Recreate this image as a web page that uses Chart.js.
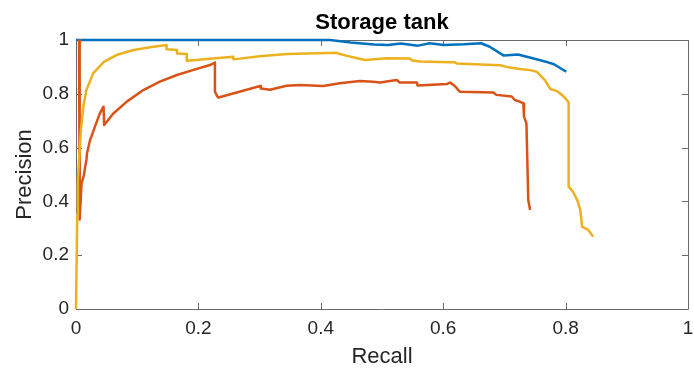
<!DOCTYPE html>
<html>
<head>
<meta charset="utf-8">
<script src="https://cdn.jsdelivr.net/npm/chart.js@4/dist/chart.umd.min.js"></script>
<style>
html,body{margin:0;padding:0;background:#fff;}
#wrap{width:694px;height:370px;}
</style>
</head>
<body>
<div id="wrap"><canvas id="c" width="694" height="370"></canvas></div>
<script>
const chartTitle = "Storage tank";
const xLabel = "Recall";
const yLabel = "Precision";
const tickValues = [0, 0.2, 0.4, 0.6, 0.8, 1];

const blueRecall = [0, 0.415, 0.449, 0.487, 0.510, 0.531, 0.559, 0.578, 0.601, 0.634, 0.662, 0.676, 0.699, 0.722, 0.743, 0.771, 0.781, 0.801];
const bluePrecision = [1, 1, 0.991, 0.983, 0.981, 0.987, 0.979, 0.988, 0.981, 0.984, 0.988, 0.975, 0.942, 0.946, 0.934, 0.917, 0.910, 0.882];

const orangeRecall = [0.005, 0.006, 0.009, 0.013, 0.015, 0.017, 0.018, 0.023, 0.031, 0.039, 0.045, 0.046, 0.061, 0.083, 0.110, 0.137, 0.165, 0.192, 0.219, 0.227, 0.227, 0.231, 0.233, 0.301, 0.302, 0.317, 0.344, 0.366, 0.404, 0.431, 0.464, 0.485, 0.497, 0.524, 0.529, 0.557, 0.558, 0.606, 0.611, 0.619, 0.627, 0.682, 0.687, 0.712, 0.717, 0.725, 0.731, 0.732, 0.736, 0.739, 0.742];
const orangePrecision = [1, 0.333, 0.467, 0.498, 0.529, 0.554, 0.579, 0.628, 0.678, 0.727, 0.752, 0.684, 0.727, 0.771, 0.814, 0.845, 0.870, 0.889, 0.907, 0.916, 0.808, 0.790, 0.786, 0.829, 0.820, 0.815, 0.830, 0.833, 0.829, 0.839, 0.848, 0.845, 0.842, 0.851, 0.842, 0.842, 0.831, 0.836, 0.842, 0.829, 0.808, 0.805, 0.796, 0.790, 0.777, 0.771, 0.764, 0.715, 0.690, 0.405, 0.368];

const yellowRecall = [0, 0.002, 0.003, 0.008, 0.012, 0.017, 0.028, 0.045, 0.066, 0.094, 0.121, 0.148, 0.148, 0.165, 0.165, 0.181, 0.181, 0.257, 0.257, 0.300, 0.345, 0.426, 0.428, 0.443, 0.458, 0.472, 0.508, 0.546, 0.548, 0.562, 0.611, 0.619, 0.622, 0.693, 0.704, 0.725, 0.742, 0.753, 0.766, 0.775, 0.785, 0.794, 0.802, 0.805, 0.805, 0.812, 0.819, 0.824, 0.827, 0.837, 0.845];
const yellowPrecision = [0, 0.35, 0.48, 0.665, 0.752, 0.814, 0.876, 0.918, 0.944, 0.963, 0.973, 0.981, 0.966, 0.963, 0.950, 0.948, 0.923, 0.938, 0.928, 0.940, 0.948, 0.953, 0.950, 0.941, 0.933, 0.926, 0.932, 0.931, 0.925, 0.920, 0.917, 0.917, 0.913, 0.906, 0.900, 0.892, 0.888, 0.882, 0.851, 0.818, 0.811, 0.796, 0.777, 0.767, 0.455, 0.436, 0.405, 0.368, 0.306, 0.294, 0.269];

function pts(xs, ys){ return xs.map((x,i)=>({x:x, y:ys[i]})); }

const FONT = "'Liberation Sans', Arial, Helvetica, sans-serif";
const TXT = '#262626';

const boxTicks = {
  id: 'boxTicks',
  beforeDatasetsDraw(chart){
    const {ctx, chartArea:a, scales} = chart;
    ctx.save();
    ctx.strokeStyle = '#6a6a6a';
    ctx.lineWidth = 1;
    ctx.beginPath();
    ctx.rect(Math.round(a.left)+0.5, Math.round(a.top)+0.5, Math.round(a.right-a.left), Math.round(a.bottom-a.top));
    ctx.stroke();
    const L = 6;
    ctx.beginPath();
    tickValues.forEach(v=>{
      const px = Math.round(scales.x.getPixelForValue(v))+0.5;
      ctx.moveTo(px, a.bottom); ctx.lineTo(px, a.bottom-L);
      ctx.moveTo(px, a.top); ctx.lineTo(px, a.top+L);
      const py = Math.round(scales.y.getPixelForValue(v))+0.5;
      ctx.moveTo(a.left, py); ctx.lineTo(a.left+L, py);
      ctx.moveTo(a.right, py); ctx.lineTo(a.right-L, py);
    });
    ctx.stroke();
    ctx.restore();
  }
};

function hFit(h){ return function(s){ s.height = h; s.paddingLeft = 0; s.paddingRight = 0; }; }

new Chart(document.getElementById('c'), {
  type: 'line',
  data: {
    datasets: [
      {label:'yellow', data: pts(yellowRecall, yellowPrecision), borderColor:'#EDB120', borderWidth:2.5, clip:false},
      {label:'orange', data: pts(orangeRecall, orangePrecision), borderColor:'#D95319', borderWidth:2.5, clip:false},
      {label:'blue', data: pts(blueRecall, bluePrecision), borderColor:'#0072BD', borderWidth:2.5, clip:false}
    ]
  },
  options: {
    responsive:false,
    animation:false,
    elements:{ point:{radius:0}, line:{tension:0, fill:false, borderJoinStyle:'round'} },
    layout:{ padding:{ right:6, left:0, top:0, bottom:0 } },
    plugins:{ legend:{display:false}, tooltip:{enabled:false}, title:{display:false} },
    scales:{
      x:{
        type:'linear', position:'bottom', min:0, max:1,
        afterBuildTicks(s){ s.ticks = tickValues.map(v=>({value:v})); },
        afterFit: hFit(61),
        grid:{display:false, drawTicks:false},
        border:{display:false},
        ticks:{ color:TXT, font:{family:FONT, size:19}, padding:8, maxRotation:0,
          callback:(v)=> String(v) },
        title:{ display:true, text:xLabel, color:TXT, font:{family:FONT, size:22}, padding:{top:0,bottom:0} }
      },
      x2:{
        type:'linear', position:'top', min:0, max:1,
        afterFit: hFit(40),
        grid:{display:false, drawTicks:false},
        border:{display:false},
        ticks:{display:false},
        title:{ display:true, text:chartTitle, color:'#000', font:{family:FONT, size:22, weight:'bold'}, padding:{top:10,bottom:0} }
      },
      y:{
        type:'linear', position:'left', min:0, max:1,
        afterBuildTicks(s){ s.ticks = tickValues.map(v=>({value:v})); },
        afterFit(s){ s.width = 76; s.paddingTop = 0; s.paddingBottom = 0; },
        grid:{display:false, drawTicks:false},
        border:{display:false},
        ticks:{ color:TXT, font:{family:FONT, size:19}, padding:7, callback:(v)=> String(v) },
        title:{ display:true, text:yLabel, color:TXT, font:{family:FONT, size:22}, padding:{top:12,bottom:0} }
      }
    }
  },
  plugins:[boxTicks]
});
</script>
</body>
</html>
